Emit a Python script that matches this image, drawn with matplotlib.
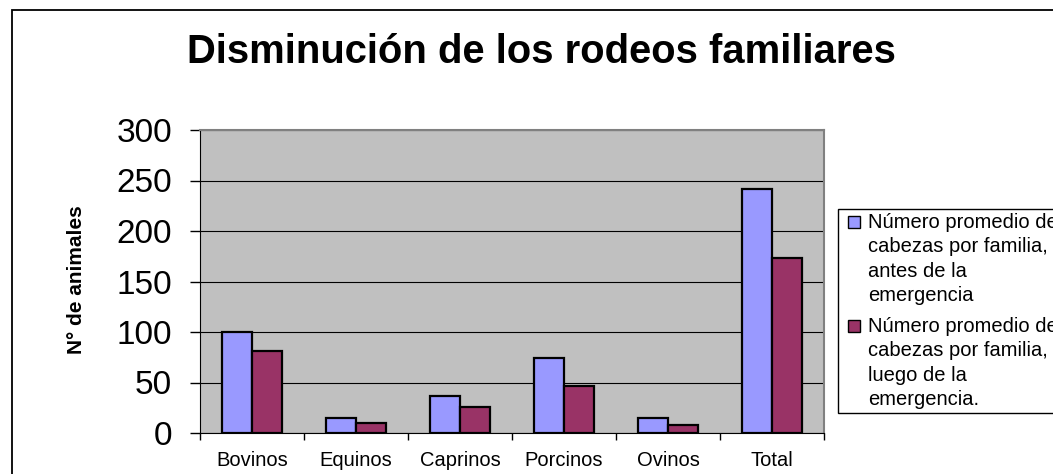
import matplotlib
matplotlib.use("Agg")
import matplotlib.pyplot as plt
from matplotlib.patches import Rectangle
import numpy as np

# data
categories = ["Bovinos", "Equinos", "Caprinos", "Porcinos", "Ovinos", "Total"]
antes = [100, 15, 37, 74, 15, 242]
luego = [81, 10, 26, 47, 8, 173]
series_labels = [
    ["Número promedio de", "cabezas por familia,", "antes de la", "emergencia"],
    ["Número promedio de", "cabezas por familia,", "luego de la", "emergencia."],
]
series_colors = ["#9999FF", "#993366"]
yticks = [0, 50, 100, 150, 200, 250, 300]

plt.rcParams["font.family"] = ["Liberation Sans", "DejaVu Sans"]

W, H = 1053, 474
fig = plt.figure(figsize=(W / 100, H / 100), dpi=100)

# outer chart frame (runs off the right and bottom edges)
fig.patches.append(Rectangle((12 / W, -0.1), 1.2, 1 - 10 / H + 0.1,
                             transform=fig.transFigure, fill=False,
                             edgecolor="black", linewidth=1.3))

ax = fig.add_axes([200 / W, 1 - 433 / H, 624 / W, 303 / H])
ax.set_facecolor("#C0C0C0")

x = np.arange(len(categories))
bw = 0.284
ax.bar(x - bw / 2, antes, bw, color=series_colors[0], edgecolor="black",
       linewidth=1.6, zorder=3)
ax.bar(x + bw / 2, luego, bw, color=series_colors[1], edgecolor="black",
       linewidth=1.6, zorder=3)

ax.set_xlim(-0.5, len(categories) - 0.5)
ax.set_ylim(0, 300)
ax.set_yticks(yticks)
ax.set_yticklabels([str(v) for v in yticks], fontsize=24)
ax.tick_params(axis="y", direction="out", length=7, width=1, pad=13)
ax.yaxis.grid(True, color="black", linewidth=0.8, zorder=1)
ax.set_axisbelow(True)

ax.set_xticks(x)
ax.set_xticklabels(categories, fontsize=14.5)
ax.set_xticks(np.arange(len(categories) + 1) - 0.5, minor=True)
ax.tick_params(axis="x", which="major", length=0, pad=13)
ax.tick_params(axis="x", which="minor", direction="out", length=5, width=1)

for side in ["top", "right"]:
    ax.spines[side].set_color("#808080")
    ax.spines[side].set_linewidth(1.5)
ax.spines["left"].set_color("black")
ax.spines["bottom"].set_color("black")

ax.set_ylabel("N° de animales", fontsize=15, fontweight="bold")
ax.yaxis.set_label_coords(-0.182, 0.505)

fig.text(541 / W, 1 - 63 / H, "Disminución de los rodeos familiares",
         ha="center", va="baseline", fontsize=28.8, fontweight="bold")

# legend box, clipped at the right edge like the original
fig.patches.append(Rectangle((838 / W, 1 - 413 / H), 0.4, 204 / H,
                             transform=fig.transFigure, facecolor="white",
                             edgecolor="black", linewidth=1))
baselines = [228, 332]
step = 24.3
for lines, color, b in zip(series_labels, series_colors, baselines):
    fig.patches.append(Rectangle((848 / W, 1 - b / H), 12 / W, 12 / H,
                                 transform=fig.transFigure, facecolor=color,
                                 edgecolor="black", linewidth=1))
    for i, line in enumerate(lines):
        fig.text(868 / W, 1 - (b + i * step) / H, line, ha="left",
                 va="baseline", fontsize=14.5)

fig.savefig("out.png", dpi=100)
